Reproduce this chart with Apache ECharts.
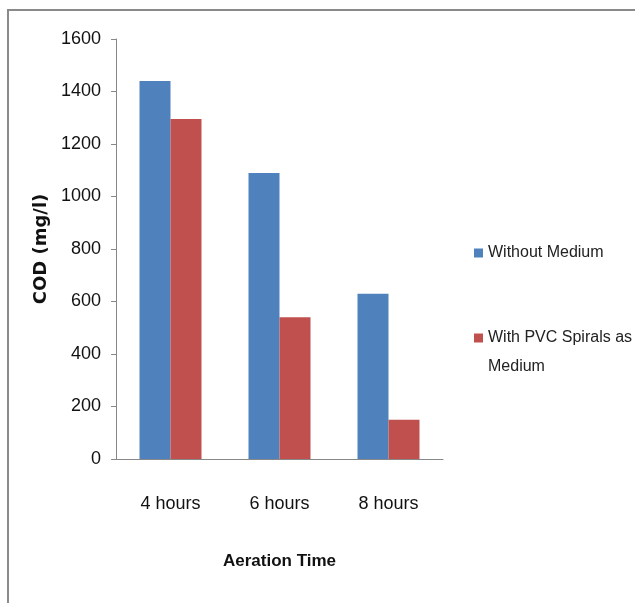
<!DOCTYPE html>
<html>
<head>
<meta charset="utf-8">
<script src="https://cdn.jsdelivr.net/npm/echarts@6/dist/echarts.min.js"></script>
<style>
html,body{margin:0;padding:0;background:#fff;}
#chart{width:635px;height:603px;}
</style>
</head>
<body>
<div id="chart"></div>
<script>
var categories = ['4 hours', '6 hours', '8 hours'];
var withoutMedium = [1440, 1090, 630];
var withPVC = [1295, 540, 150];
var seriesNames = ['Without Medium', 'With PVC Spirals as Medium'];
var yTicks = [0, 200, 400, 600, 800, 1000, 1200, 1400, 1600];

var chart = echarts.init(document.getElementById('chart'), null, {renderer: 'canvas'});
var narrow = '"Liberation Sans Narrow", "Liberation Sans", sans-serif';
chart.setOption({
  animation: false,
  backgroundColor: '#fff',
  graphic: [{
    type: 'rect',
    shape: {x: 8, y: 10, width: 700, height: 700},
    style: {fill: 'none', stroke: '#8a8a8a', lineWidth: 2},
    silent: true
  }, {
    type: 'text',
    left: 488, top: 359,
    style: {text: 'Medium', font: '16px ' + narrow, fill: '#222'},
    silent: true
  }],
  grid: {left: 116, top: 39, width: 327, height: 420, containLabel: false},
  legend: [{
    data: [seriesNames[0]],
    orient: 'vertical',
    left: 469, top: 240,
    itemWidth: 9, itemHeight: 9,
    icon: 'rect',
    itemGap: 2,
    textStyle: {fontFamily: narrow, fontSize: 16, color: '#222'}
  }, {
    data: [seriesNames[1]],
    orient: 'vertical',
    left: 469, top: 325,
    itemWidth: 9, itemHeight: 9,
    icon: 'rect',
    formatter: function () { return 'With PVC Spirals as'; },
    textStyle: {fontFamily: narrow, fontSize: 16, color: '#222'}
  }],
  xAxis: {
    type: 'category',
    data: categories,
    name: 'Aeration Time',
    nameLocation: 'middle',
    nameGap: 94,
    nameTextStyle: {fontFamily: narrow, fontSize: 17, fontWeight: 'bold', color: '#111'},
    axisLine: {lineStyle: {color: '#888', width: 1}},
    axisTick: {show: false},
    axisLabel: {fontFamily: narrow, fontSize: 18, color: '#111', margin: 36}
  },
  yAxis: {
    type: 'value',
    min: 0, max: 1600, interval: 200,
    name: 'COD (mg/l)',
    nameLocation: 'middle',
    nameGap: 65,
    nameTextStyle: {fontFamily: '"DejaVu Sans", sans-serif', fontSize: 18, fontWeight: 'bold', color: '#111'},
    axisLine: {show: true, lineStyle: {color: '#888', width: 1}},
    axisTick: {show: true, length: 5, inside: false, lineStyle: {color: '#888'}},
    splitLine: {show: false},
    axisLabel: {fontFamily: narrow, fontSize: 18, color: '#111', margin: 15,
      formatter: function (v) { return yTicks.indexOf(v) >= 0 ? String(v) : ''; }}
  },
  series: [{
    name: seriesNames[0],
    type: 'bar',
    data: withoutMedium,
    barWidth: 31,
    barGap: '0%',
    itemStyle: {color: '#4F81BD'}
  }, {
    name: seriesNames[1],
    type: 'bar',
    data: withPVC,
    barWidth: 31,
    barGap: '0%',
    itemStyle: {color: '#C0504D'}
  }]
});
</script>
</body>
</html>
